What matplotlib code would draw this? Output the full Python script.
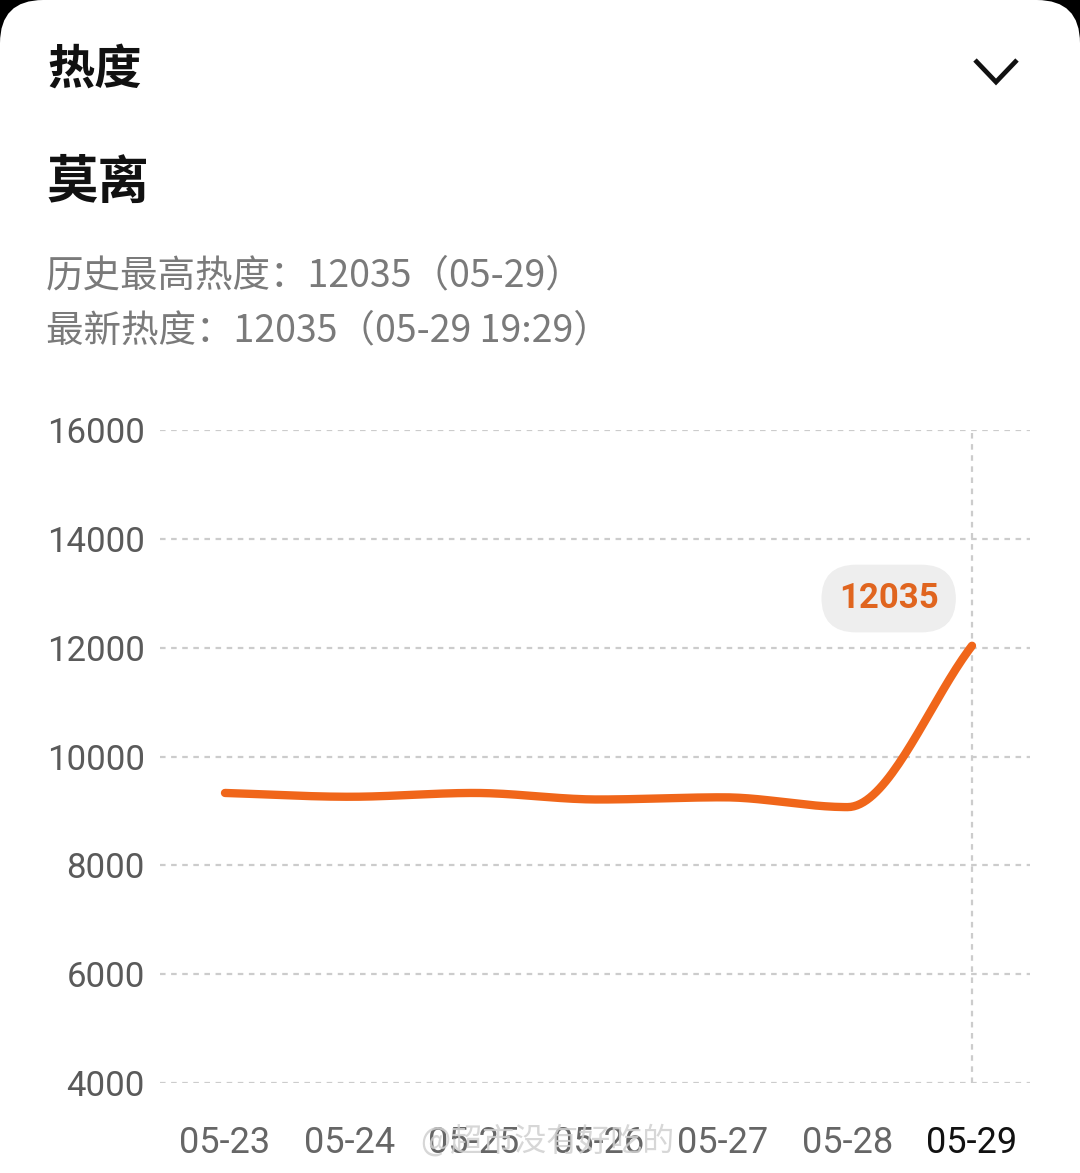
import numpy as np
import matplotlib
matplotlib.use("Agg")
import matplotlib.pyplot as plt
from matplotlib.patches import FancyBboxPatch
from matplotlib.lines import Line2D

plt.rcParams['font.family'] = ['Noto Sans CJK SC', 'DejaVu Sans']

# data
dates = ['05-23', '05-24', '05-25', '05-26', '05-27', '05-28', '05-29']
heat = [9330, 9260, 9330, 9210, 9250, 9070, 12035]
y_ticks = [4000, 6000, 8000, 10000, 12000, 14000, 16000]

title = '热度'
name = '莫离'
info_lines = ['历史最高热度：12035（05-29）', '最新热度：12035（05-29 19:29）']
peak_label = '12035'
watermark = '@超市没有好吃的'

W, H = 1080, 1173
ORANGE = '#f0661a'


def fx(px):
    return px / W


def fy(py):
    return 1 - py / H


def monotone_curve(x, y, n=40):
    # Fritsch-Carlson monotone cubic, just for drawing a smooth line
    x = np.asarray(x, float)
    y = np.asarray(y, float)
    h = np.diff(x)
    d = np.diff(y) / h
    m = np.zeros_like(y)
    m[0], m[-1] = d[0], d[-1]
    for i in range(1, len(y) - 1):
        if d[i - 1] * d[i] <= 0:
            m[i] = 0
        else:
            m[i] = 2 / (1 / d[i - 1] + 1 / d[i])
    xs, ys = [], []
    for i in range(len(x) - 1):
        t = np.linspace(0, 1, n)
        h00 = 2 * t**3 - 3 * t**2 + 1
        h10 = t**3 - 2 * t**2 + t
        h01 = -2 * t**3 + 3 * t**2
        h11 = t**3 - t**2
        xs.append(x[i] + t * h[i])
        ys.append(h00 * y[i] + h10 * h[i] * m[i] + h01 * y[i + 1] + h11 * h[i] * m[i + 1])
    return np.concatenate(xs), np.concatenate(ys)


fig = plt.figure(figsize=(W / 100, H / 100), dpi=100, facecolor='black')

# white card with rounded top corners
card = FancyBboxPatch((0, -0.1), 1, 1.1, boxstyle='round,pad=0,rounding_size=0.04',
                      transform=fig.transFigure, facecolor='white', edgecolor='none',
                      mutation_aspect=W / H, zorder=-10)
fig.patches.append(card)

# header texts
fig.text(fx(47), fy(70), title, fontsize=34, fontweight='bold', color='#111111', va='center')
fig.text(fx(47), fy(182), name, fontsize=37, fontweight='bold', color='#111111', va='center')
fig.text(fx(46), fy(276), info_lines[0], fontsize=27, color='#7a7a7a', va='center')
fig.text(fx(46), fy(331), info_lines[1], fontsize=27, color='#7a7a7a', va='center')

# chevron
fig.lines.append(Line2D([fx(975), fx(996), fx(1017)], [fy(60), fy(82), fy(60)],
                        transform=fig.transFigure, color='#111111', lw=3.4,
                        solid_joinstyle='miter', solid_capstyle='butt'))

# chart area
x_px0, x_step = 225, 124.5
left_px, right_px = 160, 1030
top_px, bot_px = 430, 1083
ax = fig.add_axes([fx(left_px), fy(bot_px), (right_px - left_px) / W, (bot_px - top_px) / H])
ax.set_facecolor('none')
ax.set_xlim(-(x_px0 - left_px) / x_step, 6 + (right_px - (x_px0 + 6 * x_step)) / x_step)
ax.set_ylim(4000, 16000)
for s in ax.spines.values():
    s.set_visible(False)

for v in y_ticks:
    ax.axhline(v, color='#cccccc', lw=1.6, dashes=(2.5, 2.5), zorder=1)
ax.axvline(len(dates) - 1, color='#cccccc', lw=1.6, dashes=(2.5, 2.5), zorder=1)

xs, ys = monotone_curve(np.arange(len(heat)), heat)
ax.plot(xs, ys, color=ORANGE, lw=6, solid_capstyle='round', zorder=3)

ax.set_yticks(y_ticks)
ax.set_yticklabels([str(v) for v in y_ticks], fontsize=25, color='#5a5a5a', family='Roboto')
ax.tick_params(axis='y', length=0, pad=11)
ax.set_xticks(range(len(dates)))
ax.set_xticklabels(dates, fontsize=26, color='#666666', family='Roboto')
ax.get_xticklabels()[-1].set_color('#111111')
ax.tick_params(axis='x', length=0, pad=30)

# peak label pill
ax.annotate(peak_label, xy=(len(dates) - 1, heat[-1]), xytext=(-60, 34),
            textcoords='offset points', ha='center', va='center',
            fontsize=25, fontweight='bold', color='#e0651f', family='Roboto',
            bbox=dict(boxstyle='round,pad=0.5,rounding_size=1.0', fc='#eeeeee', ec='none'))

# watermark (overlaps the date labels, as in the screenshot)
fig.text(fx(420), fy(1141), watermark, fontsize=23, color='#d0d0d0', alpha=0.85, va='center')

fig.savefig('out.png', dpi=100, facecolor='black')
